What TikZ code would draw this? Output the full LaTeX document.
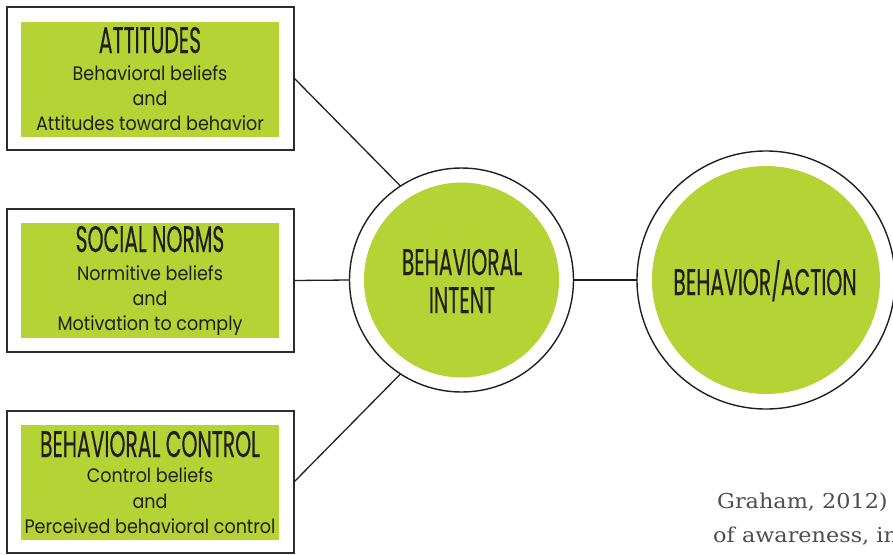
\documentclass[tikz,border=0pt]{standalone}
\usepackage{fontspec}
\setmainfont{Poppins}
\newfontfamily\headfont[FakeStretch=0.55,FakeBold=0.3]{Poppins}
\newfontfamily\bodyfont[FakeStretch=0.9]{Poppins}
\newfontfamily\notefont[FakeStretch=1.09]{DejaVu Serif}
\definecolor{leaf}{RGB}{181,211,52}
\definecolor{ink}{RGB}{35,31,32}
\definecolor{frame}{RGB}{45,45,45}
\definecolor{notegray}{RGB}{78,78,78}
\tikzset{
  outerbox/.style={draw=frame, line width=1.4pt, fill=white, minimum width=287pt, minimum height=143pt, inner sep=0pt, outer sep=0pt},
  greenbox/.style={fill=leaf, minimum width=258pt, minimum height=115pt, inner sep=0pt},
  ring/.style={circle, draw=ink, line width=1.4pt, fill=white, inner sep=0pt, outer sep=0pt},
  disc/.style={circle, fill=leaf, inner sep=0pt},
  headtext/.style={anchor=base, inner sep=0pt, text=ink, font=\headfont\fontsize{37}{37}\selectfont},
  bodytext/.style={anchor=base, inner sep=0pt, text=ink, font=\bodyfont\fontsize{19.5}{19.5}\selectfont},
  notetext/.style={anchor=base west, inner sep=0pt, text=notegray, font=\notefont\fontsize{20.5}{20.5}\selectfont},
  link/.style={draw=ink, line width=1.3pt}
}
\begin{document}
\begin{tikzpicture}[x=1pt, y=-1pt]
\clip (0,0) rectangle (893,554);
\fill[white] (0,0) rectangle (893,554);

% three factor boxes
\node[outerbox] (att) at (150.5,78.5) {};
\node[greenbox] (attin) at (150,79.5) {};
\node[headtext] (atth) at (150,53) {ATTITUDES};
\node[bodytext] (att1) at (150,80) {Behavioral beliefs};
\node[bodytext] (att2) at (150,105) {and};
\node[bodytext] (att3) at (150,130) {Attitudes toward behavior};

\node[outerbox] (soc) at (150.5,280.5) {};
\node[greenbox] (socin) at (150,280.5) {};
\node[headtext] (soch) at (150,252) {SOCIAL NORMS};
\node[bodytext] (soc1) at (150,280) {Normitive beliefs};
\node[bodytext] (soc2) at (150,305) {and};
\node[bodytext] (soc3) at (150,330) {Motivation to comply};

\node[outerbox, minimum height=142pt] (ctl) at (150.5,482) {};
\node[greenbox] (ctlin) at (150,482.5) {};
\node[headtext] (ctlh) at (150,457) {BEHAVIORAL CONTROL};
\node[bodytext] (ctl1) at (150,482) {Control beliefs};
\node[bodytext] (ctl2) at (150,508) {and};
\node[bodytext] (ctl3) at (150,533) {Perceived behavioral control};

% intent and behaviour circles
\node[ring, minimum size=224pt] (bi) at (461.5,280) {};
\node[disc, minimum size=195pt] (biin) at (461.5,280) {};
\node[headtext] (bi1) at (462,275) {BEHAVIORAL};
\node[headtext] (bi2) at (462,313) {INTENT};

\node[ring, minimum size=258pt] (ba) at (766,280) {};
\node[disc, minimum size=228pt] (bain) at (766,280) {};
\node[headtext] (ba1) at (765,295) {BEHAVIOR/ACTION};

% connectors
\draw[link] (att.east |- 0,78) -- (bi.123);
\draw[link] (soc.east) -- (bi.west);
\draw[link] (ctl.east) -- (bi.237);
\draw[link] (bi.east) -- (ba.west);

% running text at the lower right
\node[notetext] (n1) at (717,508) {Graham, 2012)};
\node[notetext] (n2) at (713,542) {of awareness, in};
\end{tikzpicture}
\end{document}
